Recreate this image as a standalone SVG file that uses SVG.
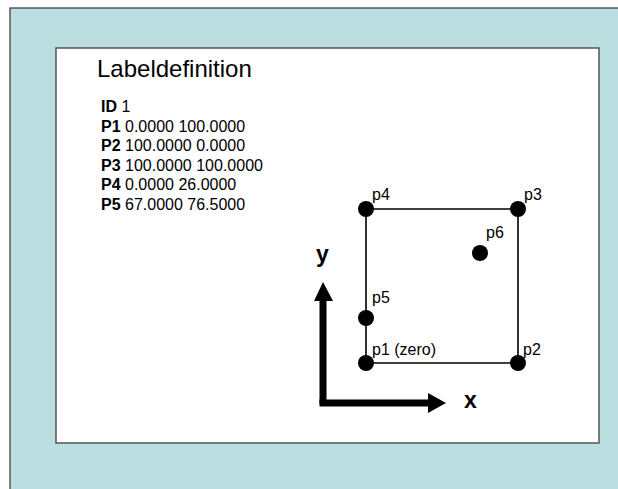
<svg xmlns="http://www.w3.org/2000/svg" width="618" height="489" viewBox="0 0 618 489">
  <style>
    text { font-family: "Liberation Sans", Arial, sans-serif; fill: #000; }
    .title { font-size: 24px; }
    .row { font-size: 16px; }
    .row tspan.k { font-weight: bold; }
    .pl { font-size: 16px; }
    .ax { font-size: 23px; font-weight: bold; }
    .edge { stroke: #000; stroke-width: 1.6; fill: none; }
    .dot { fill: #000; }
    .axis { stroke: #000; stroke-width: 7; fill: none; }
  </style>
  <!-- background panel -->
  <rect x="10" y="8" width="620" height="490" fill="#bbdfe1" stroke="#333" stroke-width="1.2"/>
  <rect x="56" y="48" width="543" height="395" fill="#fff" stroke="#555" stroke-width="1.5"/>

  <!-- heading and point list -->
  <text class="title" x="97" y="77">Labeldefinition</text>
  <text class="row" x="101" y="112"><tspan class="k">ID</tspan> 1</text>
  <text class="row" x="101" y="131.6"><tspan class="k">P1</tspan> 0.0000 100.0000</text>
  <text class="row" x="101" y="151.2"><tspan class="k">P2</tspan> 100.0000 0.0000</text>
  <text class="row" x="101" y="170.8"><tspan class="k">P3</tspan> 100.0000 100.0000</text>
  <text class="row" x="101" y="190.4"><tspan class="k">P4</tspan> 0.0000 26.0000</text>
  <text class="row" x="101" y="210"><tspan class="k">P5</tspan> 67.0000 76.5000</text>

  <!-- connectors: rectangle edges and axes -->
  <g id="connectors">
    <path class="edge" d="M366 209 H518 V363 H366 Z"/>
    <path class="axis" d="M323 404 V298"/>
    <polygon points="314,301 333,301 323,282" fill="#000"/>
    <path class="axis" d="M319.5 403 H430"/>
    <polygon points="428,393 428,413 446,403" fill="#000"/>
  </g>

  <g id="p1"><circle class="dot" cx="366" cy="363" r="8"/><text class="pl" x="372" y="355">p1 (zero)</text></g>
  <g id="p2"><circle class="dot" cx="518" cy="363" r="8"/><text class="pl" x="523" y="355">p2</text></g>
  <g id="p3"><circle class="dot" cx="518" cy="209" r="8"/><text class="pl" x="524" y="200">p3</text></g>
  <g id="p4"><circle class="dot" cx="366" cy="209" r="8"/><text class="pl" x="372" y="200">p4</text></g>
  <g id="p5"><circle class="dot" cx="366" cy="318" r="8"/><text class="pl" x="372" y="303">p5</text></g>
  <g id="p6"><circle class="dot" cx="480" cy="253" r="8"/><text class="pl" x="486" y="238">p6</text></g>

  <g id="axis-labels">
    <text class="ax" x="316" y="262">y</text>
    <text class="ax" x="464" y="408">x</text>
  </g>
</svg>
